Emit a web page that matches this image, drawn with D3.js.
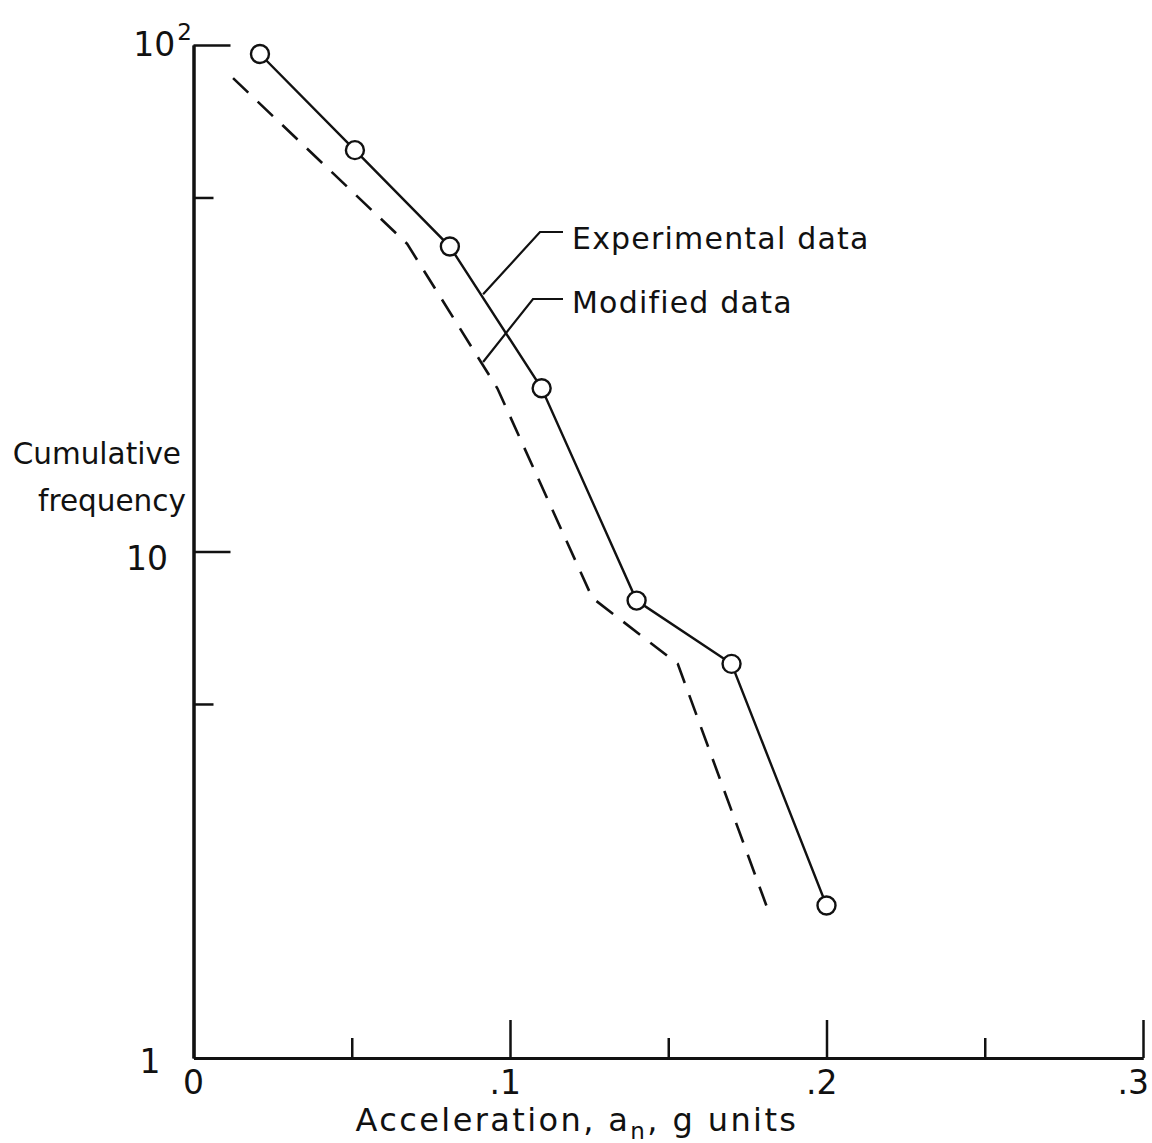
<!DOCTYPE html>
<html>
<head>
<meta charset="utf-8">
<script src="https://cdn.jsdelivr.net/npm/d3@7"></script>
<style>
  html, body { margin: 0; padding: 0; background: #fff; }
  svg { display: block; }
  text { font-family: "DejaVu Sans", sans-serif; fill: #111; }
</style>
</head>
<body>
<svg id="chart" width="1152" height="1143"></svg>
<script>
// Cumulative frequency of normal acceleration (log scale)
const experimentalAccel = [0.021, 0.051, 0.081, 0.110, 0.140, 0.170, 0.200];
const experimentalFreq  = [96, 62, 40, 21, 8, 6, 2];

const modifiedAccel = [0.0125, 0.0675, 0.096, 0.126, 0.153, 0.181];
const modifiedFreq  = [86, 40.5, 21, 8.1, 6, 2];

const xMajorTicks = [0, 0.1, 0.2, 0.3];
const xTickLabels = ["0", ".1", ".2", ".3"];
const xMinorTicks = [0.05, 0.15, 0.25];
const yMajorTicks = [10, 100];
const yMinorTicks = [5, 50];

const width = 1152;
const svg = d3.select("#chart");
const ink = "#111";

const x = d3.scaleLinear().domain([0, 0.3]).range([193.5, 1143]);
const y = d3.scaleLog().domain([1, 100]).range([1058, 45]);

// ---- axes ----
const xAxisMajor = d3.axisBottom(x).tickValues(xMajorTicks).tickSize(-38).tickSizeOuter(0).tickFormat(() => "");
const xAxisMinor = d3.axisBottom(x).tickValues(xMinorTicks).tickSize(-20).tickSizeOuter(0).tickFormat(() => "");
const yAxisMajor = d3.axisLeft(y).tickValues(yMajorTicks).tickSize(-37).tickSizeOuter(0).tickFormat(() => "");
const yAxisMinor = d3.axisLeft(y).tickValues(yMinorTicks).tickSize(-20).tickSizeOuter(0).tickFormat(() => "");

function styleAxis(g) {
  g.selectAll("path.domain").attr("stroke", ink).attr("stroke-width", 3);
  g.selectAll(".tick line").attr("stroke", ink).attr("stroke-width", 2.5);
}

svg.append("g").attr("transform", `translate(0,${y(1)})`).call(xAxisMajor).call(styleAxis);
svg.append("g").attr("transform", `translate(0,${y(1)})`).call(xAxisMinor).call(styleAxis);
svg.append("g").attr("transform", `translate(${x(0)},0)`).call(yAxisMajor).call(styleAxis);
svg.append("g").attr("transform", `translate(${x(0)},0)`).call(yAxisMinor).call(styleAxis);

// x tick labels: digit centred on the tick, leading point to its left
const labelSize = 33;
xMajorTicks.forEach((v, i) => {
  const s = xTickLabels[i];
  const t = svg.append("text")
    .attr("y", y(1) + 36)
    .attr("font-size", labelSize);
  if (s.startsWith(".")) {
    t.attr("x", Math.min(x(v) + 11, width - 3)).attr("text-anchor", "end").text(s);
  } else {
    t.attr("x", x(v)).attr("text-anchor", "middle").text(s);
  }
});

// y tick labels
const y100 = svg.append("text").attr("x", 192).attr("y", y(100) + 11)
  .attr("text-anchor", "end").attr("font-size", labelSize);
y100.append("tspan").text("10");
y100.append("tspan").attr("font-size", 23).attr("dy", -16).attr("dx", 2).text("2");

svg.append("text").attr("x", 168).attr("y", y(10) + 18)
  .attr("text-anchor", "end").attr("font-size", labelSize).text("10");
svg.append("text").attr("x", 150).attr("y", y(1) + 15)
  .attr("text-anchor", "middle").attr("font-size", labelSize).text("1");

// axis titles
const yTitle = svg.append("text").attr("font-size", 29.5).attr("text-anchor", "end");
yTitle.append("tspan").attr("x", 181).attr("y", 464).text("Cumulative");
yTitle.append("tspan").attr("x", 186).attr("y", 511).text("frequency");

const xTitle = svg.append("text").attr("x", 577).attr("y", 1131)
  .attr("text-anchor", "middle").attr("font-size", 32).attr("letter-spacing", 2.4);
xTitle.append("tspan").text("Acceleration, a");
xTitle.append("tspan").attr("font-size", 23).attr("dy", 8).text("n");
xTitle.append("tspan").attr("dy", -8).text(", g units");

// ---- data lines ----
const line = d3.line().x(d => x(d[0])).y(d => y(d[1]));
const expData = experimentalAccel.map((a, i) => [a, experimentalFreq[i]]);
const modData = modifiedAccel.map((a, i) => [a, modifiedFreq[i]]);

svg.append("path").datum(modData)
  .attr("d", line).attr("fill", "none").attr("stroke", ink)
  .attr("stroke-width", 2.6).attr("stroke-dasharray", "21 13");

svg.append("path").datum(expData)
  .attr("d", line).attr("fill", "none").attr("stroke", ink)
  .attr("stroke-width", 2.4);

svg.append("g").selectAll("circle").data(expData).join("circle")
  .attr("cx", d => x(d[0])).attr("cy", d => y(d[1])).attr("r", 9)
  .attr("fill", "#fff").attr("stroke", ink).attr("stroke-width", 2.4);

// ---- callout labels with leader lines ----
const callouts = [
  { text: "Experimental data", tip: [0.0915, 32.2], elbow: [540, 232], baseline: 249 },
  { text: "Modified data",     tip: [0.0915, 20.0], elbow: [533, 299], baseline: 313 }
];
callouts.forEach(c => {
  const tx = x(c.tip[0]), ty = c.text === "Modified data" ? 362 : y(c.tip[1]);
  svg.append("path")
    .attr("d", `M${tx},${ty}L${c.elbow[0]},${c.elbow[1]}L563,${c.elbow[1]}`)
    .attr("fill", "none").attr("stroke", ink).attr("stroke-width", 2.2);
  svg.append("text").attr("x", 572).attr("y", c.baseline)
    .attr("font-size", 30).attr("letter-spacing", 1.2).text(c.text);
});
</script>
</body>
</html>
